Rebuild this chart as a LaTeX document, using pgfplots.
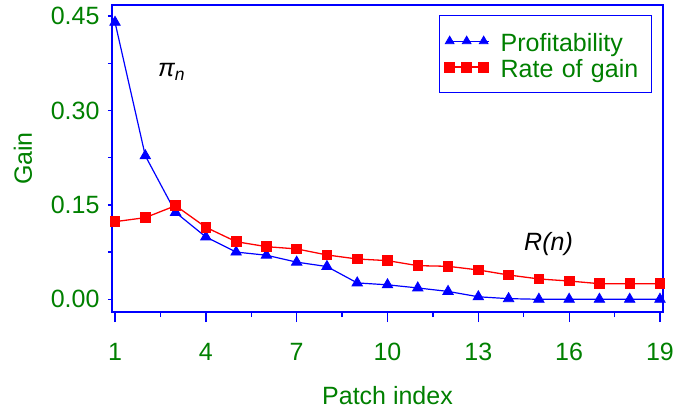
\documentclass[border=0pt]{standalone}
\usepackage{fontspec}
\setmainfont{Liberation Sans}
\usepackage{pgfplots}
\pgfplotsset{compat=1.18}
\definecolor{tgreen}{RGB}{0,128,0}
\newcommand{\bigf}{\fontsize{25bp}{30bp}\selectfont}
\begin{document}
\bigf
\begin{tikzpicture}
\begin{axis}[
  name=ax,
  scale only axis, width=551bp, height=307bp,
  xmin=0.9, xmax=19.1, ymin=-0.0202, ymax=0.4675,
  xtick={1,4,...,19}, minor x tick num=1,
  ytick=\empty,
  extra y ticks={0,0.075,0.15,0.225,0.30,0.375,0.45},
  extra y tick labels={0.00,,0.15,,0.30,,0.45},
  extra y tick style={major tick length=4bp},
  tick pos=left, tick align=outside,
  major tick length=10bp, minor tick length=5bp,
  axis line style={blue, line width=1.3bp},
  every tick/.style={blue, line width=1.3bp},
  /pgf/number format/assume math mode=true,
  tick label style={text=tgreen, font=\bigf},
  xticklabel style={yshift=-13bp},
  label style={text=tgreen, font=\bigf},
  xlabel={Patch index}, ylabel={Gain},
  xlabel style={at={(axis description cs:0.5,-0.271)}, anchor=center, inner sep=1bp},
  ylabel style={at={(axis description cs:-0.1615,0.5)}, anchor=center},
  legend style={at={(rel axis cs:0.5935,0.9674)}, anchor=north west,
    draw=blue, line width=1.3bp, fill=white, font=\bigf, text=tgreen,
    inner xsep=5bp, inner ysep=12.5bp, column sep=0pt, row sep=0pt,
    nodes={inner sep=0pt, text height=23bp, text depth=3bp, text width=146bp, align=left}},
  legend cell align=left,
  legend image code/.code={
    \path[draw=none, fill=none] (-4bp,0bp) -- (51bp,0bp);
    \draw[mark=none] (-4bp,0bp) -- (39bp,0bp);
    \draw[mark size=5bp] plot coordinates {(0bp,0bp) (17bp,0bp) (34bp,0bp)};
  },
]
\addplot[blue, line width=1.2bp, mark=triangle*, mark size=6bp,
  mark options={fill=blue, draw=blue, line width=0.8bp}] coordinates {
  (1,0.440) (2,0.228) (3,0.138) (4,0.099) (5,0.075) (6,0.070) (7,0.059)
  (8,0.052) (9,0.026) (10,0.023) (11,0.018) (12,0.0125) (13,0.004)
  (14,0.001) (15,0) (16,0) (17,0) (18,0) (19,0)};
\addlegendentry{Profitability}
\addplot[red, line width=1.3bp, mark=square*, mark size=4.8bp,
  mark options={fill=red, draw=red, line width=0.8bp}] coordinates {
  (1,0.1233) (2,0.1297) (3,0.1487) (4,0.1144) (5,0.0915) (6,0.0836) (7,0.080)
  (8,0.0704) (9,0.064) (10,0.0614) (11,0.0534) (12,0.0524) (13,0.0466)
  (14,0.0386) (15,0.0323) (16,0.029) (17,0.0248) (18,0.0248) (19,0.0248)};
\addlegendentry{Rate of gain}
\node[anchor=base west, inner sep=0pt, font=\bigf\itshape, text=black] at (axis cs:2.42,0.3533) {π\textsubscript{n}};
\node[anchor=base west, inner sep=0pt, font=\bigf\itshape, text=black] at (axis cs:14.51,0.0768) {R(n)};
\end{axis}
\pgfresetboundingbox
\path ([shift={(-112bp,-98bp)}]ax.south west) rectangle ([shift={(10bp,5bp)}]ax.north east);
\end{tikzpicture}
\end{document}
